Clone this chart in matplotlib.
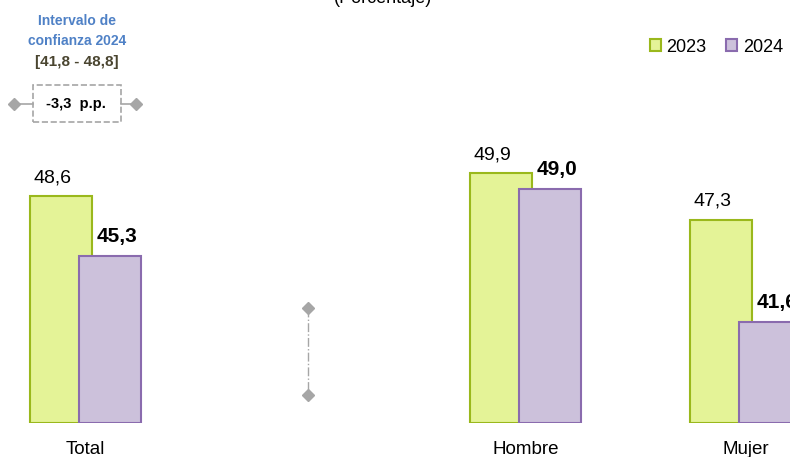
import matplotlib
matplotlib.use('Agg')
import matplotlib.pyplot as plt
from matplotlib.patches import Patch, Rectangle
from matplotlib.lines import Line2D
from matplotlib import font_manager

# data
categories = ['Total', '', 'Hombre', 'Mujer']
vals_2023 = [48.6, None, 49.9, 47.3]
vals_2024 = [45.3, None, 49.0, 41.6]
series_names = ['2023', '2024']

names = {f.name for f in font_manager.fontManager.ttflist}
fam = 'Liberation Sans Narrow' if 'Liberation Sans Narrow' in names else 'Liberation Sans'
plt.rcParams['font.family'] = [fam, 'DejaVu Sans']

W, H = 790, 457
fig = plt.figure(figsize=(W / 100, H / 100), dpi=100)
ax = fig.add_axes([0, 34 / H, 1, 423 / H])

green_fc, green_ec = '#E4F397', '#9AB81C'
purple_fc, purple_ec = '#CCC1DB', '#8A6BAE'

ymin = 36
ax.set_ylim(ymin, ymin + 423 / 18)
ax.set_xlim(-85.5 / 220, (W - 85.5) / 220)

width = 62 / 220
off = 24.5 / 220
for i, (a, b) in enumerate(zip(vals_2023, vals_2024)):
    if a is None:
        continue
    ax.bar(i - off, a - ymin, bottom=ymin, width=width, color=green_fc,
           edgecolor=green_ec, linewidth=1.5, zorder=2)
    ax.bar(i + off, b - ymin, bottom=ymin, width=width, color=purple_fc,
           edgecolor=purple_ec, linewidth=1.5, zorder=3)
    ax.annotate(f'{a:.1f}'.replace('.', ','), (i - off, a), xytext=(-6, 7),
                textcoords='offset points', ha='center', va='bottom', fontsize=14)
    ax.annotate(f'{b:.1f}'.replace('.', ','), (i + off, b), xytext=(5, 7),
                textcoords='offset points', ha='center', va='bottom', fontsize=15,
                fontweight='bold')

ax.set_xticks(range(len(categories)))
ax.set_xticklabels(categories, fontsize=13.5)
ax.tick_params(axis='x', length=0, pad=13)
ax.set_yticks([])
for s in ax.spines.values():
    s.set_visible(False)

# vertical dash-dot marker line in the empty slot
gray = '#A6A6A6'
ax.plot([1.01, 1.01], [ymin + (423 - 308) / 18, ymin + (423 - 395) / 18],
        color=gray, linestyle='-.', linewidth=1, marker='D', markersize=6,
        markerfacecolor=gray, markeredgecolor=gray, zorder=1)

handles = [Patch(facecolor=green_fc, edgecolor=green_ec, linewidth=1.5),
           Patch(facecolor=purple_fc, edgecolor=purple_ec, linewidth=1.5)]
ax.legend(handles, series_names, ncol=2, loc='center right',
          bbox_to_anchor=(1.0, 1 - 47 / 423), frameon=False, fontsize=13,
          handlelength=0.6, handleheight=0.6, handletextpad=0.3,
          columnspacing=1.1, borderaxespad=0.0)

# interval annotation (top left)
def fx(px):
    return px / W

def fy(py):
    return 1 - py / H

fig.text(fx(77), fy(21), 'Intervalo de', ha='center', va='center',
         fontsize=10, fontweight='bold', color='#4F81C6')
fig.text(fx(77), fy(41), 'confianza 2024', ha='center', va='center',
         fontsize=10, fontweight='bold', color='#4F81C6')
fig.text(fx(77), fy(62), '[41,8 - 48,8]', ha='center', va='center',
         fontsize=11, fontweight='bold', color='#4A4530')
fig.patches.append(Rectangle((fx(33), fy(122)), fx(121) - fx(33), fy(85) - fy(122),
                             transform=fig.transFigure, fill=False,
                             edgecolor=gray, linestyle='--', linewidth=1.2))
fig.text(fx(76), fy(104), '-3,3  p.p.', ha='center', va='center',
         fontsize=10.5, fontweight='bold', color='black')
for x0, x1 in [(14, 33), (136, 121)]:
    fig.add_artist(Line2D([fx(x0), fx(x1)], [fy(104), fy(104)],
                          transform=fig.transFigure, color=gray, linewidth=1.2,
                          marker='D', markevery=[0], markersize=6,
                          markerfacecolor=gray, markeredgecolor=gray))

fig.text(fx(383), fy(-2), '(Porcentaje)', ha='center', va='center', fontsize=13)

fig.savefig('out.png', dpi=100)
